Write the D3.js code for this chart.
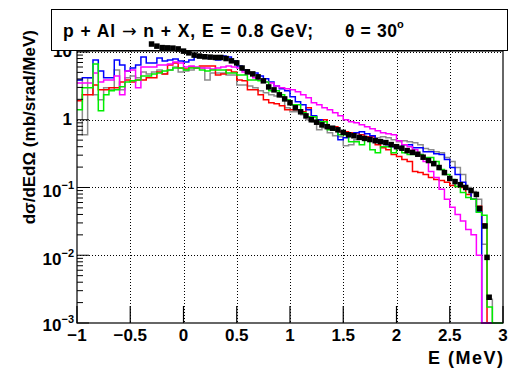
<!DOCTYPE html>
<html>
<head>
<meta charset="utf-8">
<script src="https://cdn.jsdelivr.net/npm/d3@7/dist/d3.min.js"></script>
<style>
  body { margin: 0; background: #fff; }
  text { font-family: "Liberation Sans", Arial, Helvetica, sans-serif; font-weight: bold; fill: #000; }
</style>
</head>
<body>
<svg id="chart" width="510" height="368"></svg>
<script>
// Histogram binning in log10(E): 80 bins of width 0.05 from -1 to 3
const xMin = -1, xMax = 3, nBins = 80;

// Model predictions, one value per bin (mb/srad/MeV); 0 = empty bin
const histGray = [3.87,0.602,4.15,2.33,1.97,2.96,2.76,5.43,2.76,4.15,
  4.44,4.15,5.08,4.75,5.08,5.43,4.75,5.43,6.02,5.08,
  5.25,5.43,5.82,5.82,3.87,4.91,4.91,4.91,4.59,4.59,
  3.27,3.27,3.16,2.96,2.67,2.50,2.33,2.25,2.18,1.50,
  1.31,1.31,1.18,1.00,0.935,0.713,0.763,0.644,0.582,0.562,
  0.414,0.429,0.508,0.526,0.544,0.562,0.544,0.562,0.544,0.508,
  0.475,0.491,0.475,0.459,0.429,0.375,0.362,0.338,0.327,0.276,
  0.241,0.197,0.155,0.100,0.087,0.067,0.0145,0.00225,0,0];

const histRed = [1.90,2.33,2.33,3.27,2.76,2.76,2.96,2.96,3.62,3.87,
  3.62,3.87,3.87,4.15,4.15,5.08,4.75,6.44,6.89,5.82,
  5.62,6.02,5.82,6.22,6.22,6.22,4.59,4.75,5.43,5.08,
  3.87,3.75,2.76,2.76,2.33,1.97,1.78,1.72,1.61,1.40,
  1.40,1.40,1.31,1.50,1.11,1.00,1.00,0.789,0.789,0.666,
  0.666,0.644,0.644,0.602,0.562,0.562,0.429,0.387,0.362,0.306,
  0.286,0.258,0.241,0.172,0.166,0.155,0.140,0.131,0.127,0.119,
  0.107,0.103,0.100,0.079,0.067,0.053,0.029,0,0,0];

const histBlue = [3.87,4.15,4.15,7.63,5.25,4.15,4.15,7.63,6.44,5.25,
  5.82,6.44,8.44,6.89,6.89,8.16,7.37,7.63,7.89,7.37,
  7.13,7.63,8.44,8.44,8.16,8.44,7.63,8.73,8.44,7.37,
  6.22,5.43,4.91,4.91,4.44,4.01,3.62,3.16,2.86,2.67,
  2.18,1.84,1.66,1.40,1.15,1.00,0.844,0.789,0.713,0.508,
  0.544,0.602,0.644,0.666,0.622,0.582,0.475,0.475,0.429,0.401,
  0.387,0.429,0.429,0.387,0.387,0.338,0.338,0.316,0.306,0.258,
  0.197,0.155,0.119,0.094,0.067,0.044,0,0,0,0];

const histMagenta = [3.50,3.50,3.50,4.91,3.62,3.87,3.87,4.44,2.33,5.25,
  5.43,2.96,6.02,6.02,6.02,6.44,6.44,6.66,7.13,6.89,
  6.02,6.22,6.02,5.82,5.82,5.62,5.82,6.02,6.22,6.02,
  5.82,5.08,4.75,4.15,3.87,3.62,3.50,3.16,2.96,2.86,
  2.76,2.58,2.33,2.11,1.78,1.66,1.50,1.40,1.27,1.15,
  1.00,0.935,0.903,0.844,0.789,0.737,0.689,0.644,0.622,0.602,
  0.491,0.429,0.401,0.362,0.306,0.241,0.172,0.140,0.094,0.067,
  0.051,0.040,0.032,0.024,0.020,0.010,0,0,0,0];

const histGreen = [1.40,2.96,2.96,6.66,1.36,2.33,2.67,2.76,3.06,3.62,
  3.75,3.87,4.44,4.44,4.75,4.91,5.25,5.43,5.82,5.82,
  5.43,5.82,5.82,5.43,5.25,5.43,5.43,5.43,4.91,4.91,
  4.59,4.59,3.87,3.87,3.75,3.62,2.67,2.67,2.33,1.97,
  1.66,1.66,1.27,1.11,1.11,0.935,0.935,0.713,0.713,0.602,
  0.602,0.475,0.475,0.429,0.508,0.362,0.327,0.401,0.401,0.327,
  0.387,0.327,0.306,0.306,0.306,0.276,0.276,0.241,0.184,0.155,
  0.131,0.103,0.084,0.071,0.067,0.043,0.039,0.00172,0,0];

// Measured spectrum: log10(E) and cross section
const dataLogE = [-0.30,-0.25,-0.20,-0.15,-0.10,-0.05,0.00,0.05,0.10,0.15,
  0.20,0.25,0.30,0.35,0.40,0.45,0.50,0.55,0.60,0.65,
  0.70,0.75,0.80,0.85,0.90,0.95,1.00,1.05,1.10,1.15,
  1.20,1.25,1.30,1.35,1.40,1.45,1.50,1.55,1.60,1.65,
  1.70,1.75,1.80,1.85,1.90,1.95,2.00,2.05,2.10,2.15,
  2.20,2.25,2.30,2.35,2.40,2.45,2.50,2.55,2.60,2.65,
  2.70,2.75,2.78,2.83,2.85,2.87];
const dataSigma = [13.1,12.2,11.6,11.5,11.4,11.1,10.3,9.7,9.0,8.7,
  8.5,8.4,8.3,8.3,8.0,7.4,6.9,5.8,5.1,4.75,
  4.3,3.75,3.05,2.76,2.33,2.03,1.78,1.50,1.31,1.14,
  1.00,0.92,0.84,0.79,0.75,0.71,0.65,0.60,0.58,0.55,
  0.53,0.51,0.49,0.475,0.46,0.43,0.40,0.38,0.35,0.33,
  0.31,0.28,0.25,0.225,0.197,0.166,0.136,0.122,0.110,0.100,
  0.090,0.079,0.049,0.027,0.0093,0.0024];

// Axis ticks and labels
const xTicks = [-1,-0.5,0,0.5,1,1.5,2,2.5,3];
const yDecades = [1e-3,1e-2,1e-1,1,10];
const yDecadeLabels = [["10","−3"],["10","−2"],["10","−1"],["1",""],["10",""]];

const series = [
  {values: histGray, color: "#8c8c8c"},
  {values: histRed, color: "#ff0000"},
  {values: histBlue, color: "#0000ff"},
  {values: histMagenta, color: "#ff00ff"},
  {values: histGreen, color: "#00ee00"}
];

const frame = {left: 77, right: 503, top: 51, bottom: 323};
const svg = d3.select("#chart");

const x = d3.scaleLinear().domain([xMin, xMax]).range([frame.left, frame.right]);
const y = d3.scaleLog().domain([1e-3, 10.34]).range([frame.bottom, frame.top]);

svg.append("rect").attr("width", 510).attr("height", 368).attr("fill", "#fff");

svg.append("defs").append("clipPath").attr("id", "plotClip")
  .append("rect")
  .attr("x", frame.left).attr("y", frame.top)
  .attr("width", frame.right - frame.left).attr("height", frame.bottom - frame.top + 1);

// Dotted grid
const grid = svg.append("g").attr("stroke", "#000").attr("stroke-width", 1)
  .attr("stroke-dasharray", "1,2");
grid.selectAll(".gx").data(xTicks.slice(1, -1)).join("line")
  .attr("x1", d => Math.round(x(d)) + 0.5).attr("x2", d => Math.round(x(d)) + 0.5)
  .attr("y1", frame.top).attr("y2", frame.bottom);
grid.selectAll(".gy").data(yDecades.slice(1)).join("line")
  .attr("y1", d => Math.round(y(d)) + 0.5).attr("y2", d => Math.round(y(d)) + 0.5)
  .attr("x1", frame.left).attr("x2", frame.right);

// Step histograms
const edges = d3.range(nBins + 1).map(i => xMin + i * (xMax - xMin) / nBins);
const yOf = v => v > 0 ? y(v) : frame.bottom;
const stepLine = d3.line().x(d => x(d[0])).y(d => yOf(d[1])).curve(d3.curveStepAfter);

const hg = svg.append("g").attr("clip-path", "url(#plotClip)");
series.forEach(s => {
  const pts = s.values.map((v, i) => [edges[i], v]);
  pts.push([edges[nBins], s.values[nBins - 1]]);
  hg.append("path").attr("d", stepLine(pts))
    .attr("fill", "none").attr("stroke", s.color).attr("stroke-width", 1.5);
});

// Frame
svg.append("rect")
  .attr("x", frame.left).attr("y", frame.top)
  .attr("width", frame.right - frame.left).attr("height", frame.bottom - frame.top)
  .attr("fill", "none").attr("stroke", "#000").attr("stroke-width", 1.2);

// X ticks and labels
const axes = svg.append("g");
axes.selectAll(".tx").data(xTicks).join("line")
  .attr("x1", d => x(d)).attr("x2", d => x(d))
  .attr("y1", frame.bottom).attr("y2", frame.bottom - 17)
  .attr("stroke", "#000").attr("stroke-width", 1.2);
axes.selectAll(".lx").data(xTicks).join("text")
  .attr("x", d => x(d)).attr("y", 341)
  .attr("text-anchor", "middle").attr("font-size", 17)
  .text(d => (d < 0 ? "−" : "") + Math.abs(d));

// Y ticks (major and minor) and labels
const yMinor = [];
yDecades.slice(0, -1).forEach(dec => { for (let k = 2; k <= 9; k++) yMinor.push(dec * k); });
axes.selectAll(".tym").data(yMinor.filter(v => v <= 10.34)).join("line")
  .attr("x1", frame.left).attr("x2", frame.left + 6)
  .attr("y1", d => y(d)).attr("y2", d => y(d))
  .attr("stroke", "#000");
axes.selectAll(".tyM").data(yDecades).join("line")
  .attr("x1", frame.left).attr("x2", frame.left + 12)
  .attr("y1", d => y(d)).attr("y2", d => y(d))
  .attr("stroke", "#000");

const yl = axes.selectAll(".ly").data(yDecades).join("text")
  .attr("x", (d, i) => yDecadeLabels[i][1] ? 74 : 72)
  .attr("text-anchor", "end").attr("font-size", 17)
  .attr("y", (d, i) => y(d) + (yDecadeLabels[i][1] ? (i === 0 ? 8 : 10) : 5.5));
yl.append("tspan").text((d, i) => yDecadeLabels[i][0]);
yl.filter((d, i) => yDecadeLabels[i][1] !== "")
  .append("tspan").attr("font-size", 11).attr("dy", -8)
  .text(d => yDecadeLabels[yDecades.indexOf(d)][1]);

// Axis titles
svg.append("text").attr("x", 503).attr("y", 364)
  .attr("text-anchor", "end").attr("font-size", 18)
  .attr("textLength", 75).attr("lengthAdjust", "spacing")
  .text("E (MeV)");
svg.append("text").attr("transform", "translate(35,30) rotate(-90)")
  .attr("text-anchor", "end").attr("font-size", 17)
  .text("dσ/dEdΩ (mb/srad/MeV)");

// Title box
svg.append("rect").attr("x", 51.5).attr("y", 9.5).attr("width", 456).attr("height", 41)
  .attr("fill", "#fff").attr("stroke", "#000").attr("stroke-width", 1);
const title = svg.append("text").attr("x", 63).attr("y", 37).attr("font-size", 17.5)
  .attr("textLength", 250).attr("lengthAdjust", "spacing");
title.append("tspan").text("p + Al ");
title.append("tspan").style("font-family", "'DejaVu Sans', sans-serif").style("font-weight", "normal").text("→");
title.append("tspan").text(" n + X, E = 0.8 GeV;");
svg.append("text").attr("x", 345).attr("y", 37).attr("font-size", 17.5)
  .attr("textLength", 52).attr("lengthAdjust", "spacing")
  .text("θ = 30");
svg.append("text").attr("x", 397).attr("y", 28).attr("font-size", 11).text("o");

// Measured points drawn last, on top of everything
const ms = 5.5;
svg.append("g").selectAll("rect").data(dataLogE).join("rect")
  .attr("x", d => x(d) - ms / 2).attr("y", (d, i) => y(dataSigma[i]) - ms / 2)
  .attr("width", ms).attr("height", ms).attr("fill", "#000");
</script>
</body>
</html>
